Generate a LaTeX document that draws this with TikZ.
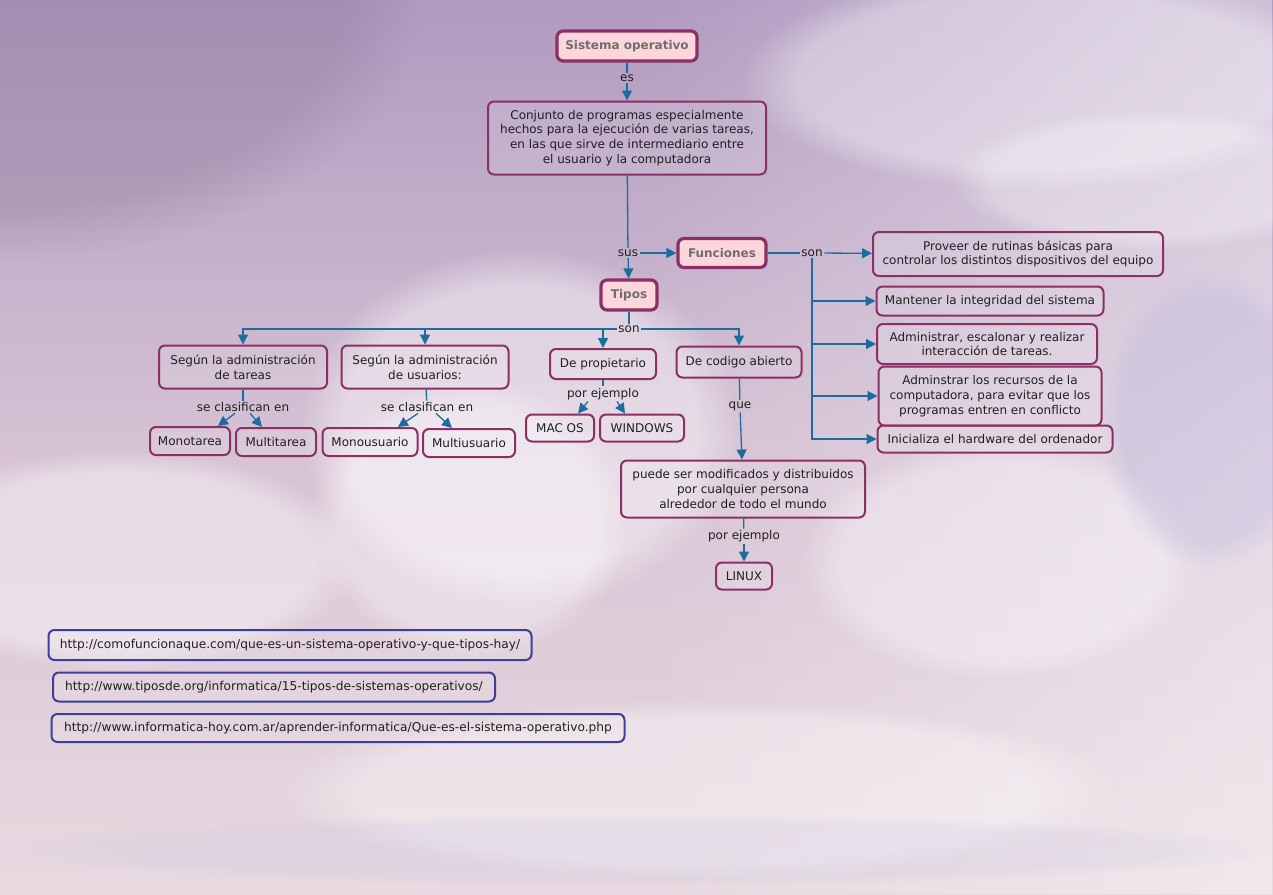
\documentclass[tikz,border=0pt]{standalone}
\usepackage{fontspec}
\setmainfont{DejaVu Sans}
\usetikzlibrary{arrows.meta,fadings}
\usepackage{xcolor}

\definecolor{boxborder}{RGB}{138,48,98}
\definecolor{pinkfill}{RGB}{252,214,220}
\definecolor{boldgray}{RGB}{110,110,110}
\definecolor{connblue}{RGB}{28,108,158}
\definecolor{linkborder}{RGB}{62,62,152}
\definecolor{skytop}{RGB}{176,154,192}
\definecolor{skymid}{RGB}{214,194,212}
\definecolor{skylow}{RGB}{232,218,224}

\tikzset{
    txt/.style={font=\fontsize{12}{14.7}\selectfont, text=black!88},
    wh/.style 2 args={minimum width=#1pt, minimum height=#2pt},
    mainbox/.style={draw=boxborder, line width=3.2pt, fill=pinkfill, rounded corners=6pt,
        font=\fontsize{12}{14.7}\selectfont\bfseries, text=boldgray, inner sep=2pt},
    conbox/.style={txt, draw=boxborder, line width=2pt, rounded corners=6pt, align=center,
        fill=white, fill opacity=0.12, text opacity=1, inner sep=2pt},
    linkbox/.style={draw=linkborder, line width=2pt, rounded corners=6pt,
        font=\fontsize{12.2}{14}\selectfont, text=black!88,
        fill=white, fill opacity=0.12, text opacity=1, inner sep=2pt},
    lbl/.style={txt, inner sep=1.5pt},
    conn/.style={draw=connblue, line width=1.3pt},
    arr/.style={conn, -{Triangle[length=10pt,width=10pt]}},
    cloud/.style={fill=white, path fading=circle with fuzzy edge 20 percent}
}

\begin{document}
\begin{tikzpicture}[x=1pt,y=-1pt]
    % background sky
    \useasboundingbox (0,0) rectangle (1273,894);
    \shade[top color=skytop, bottom color=skylow, middle color=skymid] (0,0) rectangle (1273,894);
    \fill[white, path fading=west, fill opacity=0.4] (640,0) rectangle (1273,894);
    \fill[skytop!70!black, path fading=circle with fuzzy edge 20 percent, fill opacity=0.25] (0,0) ellipse (420 and 260);
    \fill[cloud, fill opacity=0.4] (520,430) ellipse (220 and 180);
    \fill[cloud, fill opacity=0.35] (470,520) ellipse (160 and 140);
    \fill[cloud, fill opacity=0.4] (120,560) ellipse (240 and 110);
    \fill[cloud, fill opacity=0.35] (1040,80) ellipse (300 and 110);
    \fill[cloud, fill opacity=0.3] (1150,180) ellipse (200 and 70);
    \fill[cloud, fill opacity=0.35] (700,790) ellipse (420 and 90);
    \fill[cloud, fill opacity=0.35] (1000,560) ellipse (200 and 120);
    \fill[black!45!blue!30, path fading=circle with fuzzy edge 20 percent, fill opacity=0.3] (1210,420) ellipse (110 and 150);
    \fill[black!45!blue!25, path fading=circle with fuzzy edge 20 percent, fill opacity=0.18] (640,850) ellipse (640 and 35);

    % top
    \node[mainbox, wh={140}{30}] (sysop) at (627,46) {Sistema operativo};
    \node[lbl] (es) at (627,78) {es};
    \node[conbox, wh={278}{73}] (conj) at (627,138) {Conjunto de programas especialmente\\hechos para la ejecución de varias tareas,\\en las que sirve de intermediario entre\\el usuario y la computadora};
    \node[lbl] (sus) at (628,253) {sus};
    \node[mainbox, wh={88}{29}] (funciones) at (722,253) {Funciones};
    \node[mainbox, wh={56}{30}] (tipos) at (629,295) {Tipos};
    \node[lbl] (son1) at (629,329) {son};

    % tipos
    \node[conbox, wh={168}{43}] (tareas) at (243,367) {Según la administración\\de tareas};
    \node[conbox, wh={167}{43}] (usuarios) at (425,367) {Según la administración\\de usuarios:};
    \node[conbox, wh={106}{30}] (propietario) at (603,364) {De propietario};
    \node[conbox, wh={125}{31}] (abierto) at (739,362) {De codigo abierto};
    \node[lbl] (clas1) at (243,407) {se clasifican en};
    \node[lbl] (clas2) at (427,407) {se clasifican en};
    \node[conbox, wh={80}{28}] (monotarea) at (190,441) {Monotarea};
    \node[conbox, wh={80}{28}] (multitarea) at (276,442) {Multitarea};
    \node[conbox, wh={95}{28}] (monousuario) at (370,442) {Monousuario};
    \node[conbox, wh={92}{28}] (multiusuario) at (469,443) {Multiusuario};
    \node[lbl] (ej1) at (603,394) {por ejemplo};
    \node[conbox, wh={68}{27}] (macos) at (560,428) {MAC OS};
    \node[conbox, wh={84}{27}] (windows) at (642,428) {WINDOWS};
    \node[lbl] (que) at (740,406) {que};
    \node[conbox, wh={244}{57}] (puede) at (743,489) {puede ser modificados y distribuidos\\por cualquier persona\\alrededor de todo el mundo};
    \node[lbl] (ej2) at (744,536) {por ejemplo};
    \node[conbox, wh={56}{27}] (linux) at (744,576) {LINUX};

    % funciones
    \node[lbl] (son2) at (812,253) {son};
    \node[conbox, wh={290}{44}] (proveer) at (1018,254) {Proveer de rutinas básicas para\\controlar los distintos dispositivos del equipo};
    \node[conbox, wh={227}{29}] (mantener) at (990,301) {Mantener la integridad del sistema};
    \node[conbox, wh={220}{40}] (administrar) at (987,344) {Administrar, escalonar y realizar\\interacción de tareas.};
    \node[conbox, wh={223}{59}] (recursos) at (990,396) {Adminstrar los recursos de la\\computadora, para evitar que los\\programas entren en conflicto};
    \node[conbox, wh={235}{27}] (inicializa) at (995,439) {Inicializa el hardware del ordenador};

    % fuentes
    \node[linkbox, wh={483}{30}] (url1) at (290,645) {http://comofuncionaque.com/que-es-un-sistema-operativo-y-que-tipos-hay/};
    \node[linkbox, wh={442}{29}] (url2) at (274,687) {http://www.tiposde.org/informatica/15-tipos-de-sistemas-operativos/};
    \node[linkbox, wh={573}{28}] (url3) at (338,728) {http://www.informatica-hoy.com.ar/aprender-informatica/Que-es-el-sistema-operativo.php};

    \draw[conn] (sysop) -- (es);
    \draw[arr] (es) -- (conj);
    \draw[conn] (conj) -- (sus);
    \draw[arr] (sus) -- (funciones);
    \draw[arr] (sus) -- (tipos);
    \draw[conn] (tipos) -- (son1);
    \draw[arr] (son1) -| (tareas);
    \draw[arr] (son1) -| (usuarios);
    \draw[arr] (son1) -| (propietario);
    \draw[arr] (son1) -| (abierto);

    \draw[conn] (tareas) -- (clas1);
    \draw[arr] ([xshift=-8pt]clas1.south) -- ([xshift=28pt]monotarea.north);
    \draw[arr] ([xshift=7pt]clas1.south) -- ([xshift=-14pt]multitarea.north);
    \draw[conn] (usuarios) -- (clas2);
    \draw[arr] ([xshift=-9pt]clas2.south) -- ([xshift=28pt]monousuario.north);
    \draw[arr] ([xshift=9pt]clas2.south) -- ([xshift=-17pt]multiusuario.north);
    \draw[conn] (propietario) -- (ej1);
    \draw[arr] ([xshift=-15pt]ej1.south) -- ([xshift=18pt]macos.north);
    \draw[arr] ([xshift=14pt]ej1.south) -- ([xshift=-17pt]windows.north);
    \draw[conn] (abierto) -- (que);
    \draw[arr] (que) -- (puede);
    \draw[conn] (puede) -- (ej2);
    \draw[arr] (ej2) -- (linux);

    \draw[conn] (funciones) -- (son2);
    \draw[arr] (son2) -- (proveer);
    \draw[arr] (son2) |- (mantener);
    \draw[arr] (son2) |- (administrar);
    \draw[arr] (son2) |- (recursos);
    \draw[arr] (son2) |- (inicializa);
\end{tikzpicture}
\end{document}
